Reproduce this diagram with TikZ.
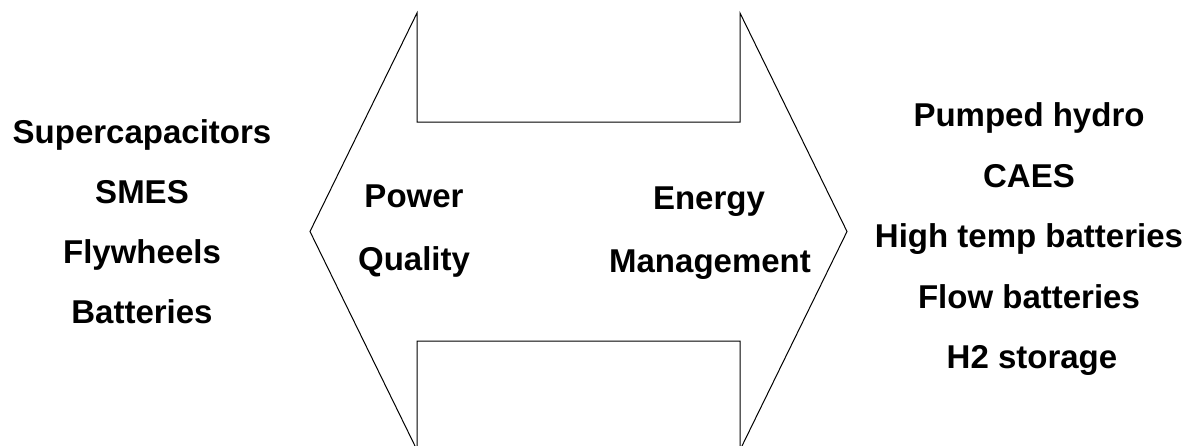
\documentclass[tikz,border=0pt]{standalone}
\usepackage{fontspec}
\setmainfont{Liberation Sans}
\begin{document}
\begin{tikzpicture}[x=1pt,y=-1pt,
  lbl/.style={anchor=base,inner sep=0pt,font=\fontsize{33}{40}\selectfont\bfseries},
  outline/.style={draw=black,line width=1pt,line join=miter}]
\useasboundingbox (0,0) rectangle (1196,445);
\clip (0,0) rectangle (1196,445);
\draw[outline] (310,231.5) -- (417,13) -- (417,122) -- (740,122) -- (740,13)
  -- (847,231.5) -- (740,450) -- (740,341) -- (417,341) -- (417,450) -- cycle;
% left column
\node[lbl] (sc) at (142,143) {Supercapacitors};
\node[lbl] (sm) at (142,203) {SMES};
\node[lbl] (fw) at (142,263) {Flywheels};
\node[lbl] (bt) at (142,323) {Batteries};
% middle
\node[lbl] (pw) at (414,207) {Power};
\node[lbl] (qu) at (414,270) {Quality};
\node[lbl] (en) at (709,209) {Energy};
\node[lbl] (mg) at (710,272) {Management};
% right column
\node[lbl] (ph) at (1029,126) {Pumped hydro};
\node[lbl] (ca) at (1029,187) {CAES};
\node[lbl] (ht) at (1029,247) {High temp batteries};
\node[lbl] (fb) at (1029,308) {Flow batteries};
\node[lbl] (h2) at (1032,368) {H2 storage};
\end{tikzpicture}
\end{document}
